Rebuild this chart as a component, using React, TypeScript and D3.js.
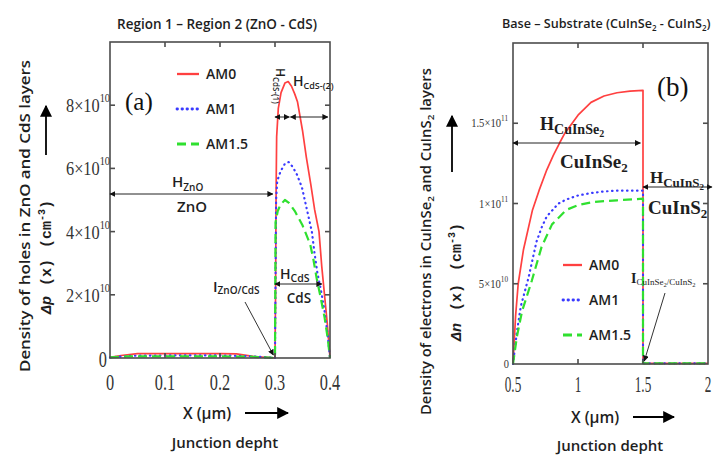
import React from 'react';
import * as d3 from 'd3';

type Pt = [number, number];

// Region 1 – Region 2 (ZnO / CdS): excess hole density Δp(x), x in µm, Δp in cm^-3
const holesAM0: Pt[] = [
  [0, 0.02e10], [0.02, 0.08e10], [0.05, 0.14e10], [0.1, 0.14e10], [0.15, 0.14e10], [0.2, 0.14e10],
  [0.23, 0.13e10], [0.26, 0.05e10], [0.29, 0.01e10], [0.3, 0], [0.301, 2.0e10], [0.302, 5.3e10],
  [0.303, 7.0e10], [0.306, 7.9e10], [0.311, 8.4e10], [0.318, 8.7e10], [0.324, 8.75e10], [0.33, 8.6e10],
  [0.336, 8.35e10], [0.341, 8.1e10], [0.35, 7.2e10], [0.357, 6.35e10], [0.365, 5.5e10], [0.372, 4.7e10],
  [0.38, 4.0e10], [0.385, 2.9e10], [0.39, 2.0e10], [0.395, 1.1e10], [0.4, 0],
];
const holesAM1: Pt[] = [
  [0, 0.02e10], [0.04, 0.07e10], [0.1, 0.08e10], [0.2, 0.08e10], [0.25, 0.06e10], [0.28, 0.03e10],
  [0.3, 0], [0.301, 2.5e10], [0.302, 5.0e10], [0.304, 5.6e10], [0.31, 5.9e10], [0.318, 6.15e10],
  [0.325, 6.2e10], [0.332, 6.05e10], [0.34, 5.8e10], [0.349, 5.4e10], [0.358, 4.7e10], [0.367, 4.0e10],
  [0.372, 3.3e10], [0.377, 2.7e10], [0.383, 2.2e10], [0.39, 1.5e10], [0.396, 0.7e10], [0.4, 0],
];
const holesAM15: Pt[] = [
  [0, 0.02e10], [0.03, 0.05e10], [0.1, 0.05e10], [0.2, 0.05e10], [0.26, 0.04e10], [0.29, 0.01e10],
  [0.3, 0], [0.3005, 2.0e10], [0.301, 4.3e10], [0.305, 4.65e10], [0.31, 4.85e10], [0.318, 5.0e10],
  [0.326, 4.9e10], [0.336, 4.65e10], [0.35, 4.2e10], [0.364, 3.6e10], [0.37, 3.1e10], [0.376, 2.5e10],
  [0.382, 2.0e10], [0.39, 1.3e10], [0.396, 0.6e10], [0.4, 0],
];
const holesXDomain = [0, 0.4];
const holesYDomain = [0, 10e10];
const holesXTicks = [0, 0.1, 0.2, 0.3, 0.4];
const holesYTicks = [0, 2e10, 4e10, 6e10, 8e10];

// Base – Substrate (CuInSe2 / CuInS2): excess electron density Δn(x)
const electronsAM0: Pt[] = [
  [0.5, 0], [0.52, 0.3e11], [0.54, 0.5e11], [0.58, 0.71e11], [0.65, 0.96e11], [0.7, 1.08e11],
  [0.76, 1.21e11], [0.81, 1.3e11], [0.86, 1.38e11], [0.9, 1.44e11], [1.0, 1.55e11], [1.1, 1.63e11],
  [1.2, 1.67e11], [1.3, 1.69e11], [1.4, 1.7e11], [1.5, 1.705e11], [1.5, 0.004e11], [2, 0.004e11],
];
const electronsAM1: Pt[] = [
  [0.5, 0], [0.53, 0.2e11], [0.56, 0.36e11], [0.62, 0.54e11], [0.68, 0.76e11], [0.72, 0.85e11],
  [0.76, 0.92e11], [0.85, 1.0e11], [0.91, 1.025e11], [1.0, 1.05e11], [1.1, 1.065e11], [1.2, 1.075e11],
  [1.3, 1.08e11], [1.4, 1.08e11], [1.5, 1.08e11], [1.5, 0.004e11], [2, 0.004e11],
];
const electronsAM15: Pt[] = [
  [0.5, 0], [0.53, 0.17e11], [0.57, 0.33e11], [0.645, 0.52e11], [0.72, 0.73e11], [0.8, 0.87e11],
  [0.91, 0.96e11], [1.0, 0.99e11], [1.12, 1.01e11], [1.3, 1.02e11], [1.5, 1.03e11],
  [1.5, 0.004e11], [2, 0.004e11],
];
const electronsXDomain = [0.5, 2];
const electronsYDomain = [0, 2e11];
const electronsXTicks = [0.5, 1, 1.5, 2];
const electronsYTicks = [0, 5e10, 1e11, 1.5e11];

const spectra = ['AM0', 'AM1', 'AM1.5'];

const SANS = '"Open Sans", "Liberation Sans", sans-serif';
const SERIF = '"Liberation Serif", "DejaVu Serif", serif';
const MONO = '"Liberation Mono", "DejaVu Sans Mono", monospace';
const INK = '#1e1e1e';
const FRAME = '#4d4d4d';

const seriesStyle = [
  { stroke: '#ff4040', width: 1.7, dash: undefined as string | undefined, cap: 'butt' },
  { stroke: '#3a3aff', width: 2.2, dash: '0.5 4.5', cap: 'round' },
  { stroke: '#2fe02f', width: 2.2, dash: '9 5', cap: 'butt' },
];

function sci(v: number): [string, string] | null {
  if (v === 0) return null;
  const e = Math.floor(Math.log10(v) + 1e-9);
  const m = +(v / Math.pow(10, e)).toFixed(2);
  return [String(m), String(e)];
}

type Scale = d3.ScaleLinear<number, number>;

function Frame({ x, y, xTicks, yTicks }: { x: Scale; y: Scale; xTicks: number[]; yTicks: number[] }) {
  const [x0, x1] = x.range();
  const [y0, y1] = y.range();
  const t = 5;
  const innerX = xTicks.filter((v) => v > x.domain()[0] && v < x.domain()[1]);
  const innerY = yTicks.filter((v) => v > y.domain()[0] && v < y.domain()[1]);
  return (
    <g stroke={FRAME} strokeWidth={1.6} fill="none">
      <rect x={x0} y={y1} width={x1 - x0} height={y0 - y1} />
      {innerX.map((v) => (
        <g key={'x' + v}>
          <line x1={x(v)} x2={x(v)} y1={y0} y2={y0 - t} />
          <line x1={x(v)} x2={x(v)} y1={y1} y2={y1 + t} />
        </g>
      ))}
      {innerY.map((v) => (
        <g key={'y' + v}>
          <line x1={x0} x2={x0 + t} y1={y(v)} y2={y(v)} />
          <line x1={x1} x2={x1 - t} y1={y(v)} y2={y(v)} />
        </g>
      ))}
    </g>
  );
}

function Curves({ x, y, series }: { x: Scale; y: Scale; series: Pt[][] }) {
  const line = d3
    .line<Pt>()
    .x((d) => x(d[0]))
    .y((d) => y(d[1]))
    .curve(d3.curveLinear);
  return (
    <g fill="none">
      {series.map((s, i) => (
        <path
          key={i}
          d={line(s) || ''}
          stroke={seriesStyle[i].stroke}
          strokeWidth={seriesStyle[i].width}
          strokeDasharray={seriesStyle[i].dash}
          strokeLinecap={seriesStyle[i].cap as any}
          strokeLinejoin="round"
        />
      ))}
    </g>
  );
}

function Legend({ x, y, gap, len, fontSize }: { x: number; y: number; gap: number; len: number; fontSize: number }) {
  return (
    <g>
      {spectra.map((name, i) => (
        <g key={name} transform={`translate(${x},${y + i * gap})`}>
          <line
            x1={0}
            x2={len}
            y1={0}
            y2={0}
            stroke={seriesStyle[i].stroke}
            strokeWidth={seriesStyle[i].width + 0.6}
            strokeDasharray={seriesStyle[i].dash}
            strokeLinecap={seriesStyle[i].cap as any}
          />
          <text x={len + 7} y={5} fontFamily={SANS} fontWeight={600} fontSize={fontSize} fill={INK}>
            {name}
          </text>
        </g>
      ))}
    </g>
  );
}

export default function App() {
  const xa = d3.scaleLinear().domain(holesXDomain).range([110, 330]);
  const ya = d3.scaleLinear().domain(holesYDomain).range([358, 42]);
  const xb = d3.scaleLinear().domain(electronsXDomain).range([513, 708]);
  const yb = d3.scaleLinear().domain(electronsYDomain).range([364, 43]);

  return (
    <svg
      width={722}
      height={457}
      viewBox="0 0 722 457"
      style={{ position: 'absolute', left: 0, top: 0, background: '#fff' }}
    >
      <defs>
        <marker id="ah" viewBox="0 0 10 10" refX={9} refY={5} markerWidth={6} markerHeight={6} orient="auto-start-reverse" markerUnits="userSpaceOnUse">
          <path d="M0,0 L10,5 L0,10 z" fill="#111" />
        </marker>
        <marker id="big" viewBox="0 0 10 10" refX={9} refY={5} markerWidth={12} markerHeight={12} orient="auto" markerUnits="userSpaceOnUse">
          <path d="M0,0 L10,5 L0,10 z" fill="#000" />
        </marker>
      </defs>

      {/* ---------------- panel (a) ---------------- */}
      <text x={217} y={29} textAnchor="middle" fontFamily={SANS} fontWeight={600} fontSize={13.5} fill={INK}>
        Region 1 – Region 2 (ZnO - CdS)
      </text>

      <Curves x={xa} y={ya} series={[holesAM0, holesAM1, holesAM15]} />
      <Frame x={xa} y={ya} xTicks={holesXTicks} yTicks={holesYTicks} />

      {holesXTicks.map((v) => (
        <text key={v} transform={`translate(${xa(v)},390) scale(0.68,1)`} textAnchor="middle" fontFamily={SERIF} fontSize={24} fill="#333">
          {String(v)}
        </text>
      ))}
      {holesYTicks.map((v) => {
        const p = sci(v);
        if (!p)
          return (
            <text key={v} transform={`translate(107,${ya(v) + 9}) scale(0.68,1)`} textAnchor="end" fontFamily={SERIF} fontSize={24} fill="#333">
              0
            </text>
          );
        return (
          <text key={v} transform={`translate(110,${ya(v) + 7}) scale(0.86,1)`} textAnchor="end" fontFamily={SERIF} fontSize={19} fill="#333">
            {p[0]}×10
            <tspan dy={-10} fontSize={12}>
              {p[1]}
            </tspan>
          </text>
        );
      })}

      <text x={125} y={110} fontFamily={SERIF} fontSize={25} fill="#111">
        (a)
      </text>
      <Legend x={177} y={74} gap={35} len={22} fontSize={14} />

      {/* ZnO layer */}
      <text x={172} y={187} fontFamily={SANS} fontWeight={600} fontSize={15} fill={INK}>
        H<tspan dy={4} fontSize={10}>ZnO</tspan>
      </text>
      <line x1={xa(0)} x2={xa(0.296)} y1={194} y2={194} stroke="#222" strokeWidth={1} markerStart="url(#ah)" markerEnd="url(#ah)" />
      <text x={192} y={212} textAnchor="middle" fontFamily={SANS} fontWeight={600} fontSize={15} fill={INK}>
        ZnO
      </text>

      {/* CdS layer */}
      <text transform="translate(276,68) rotate(90)" fontFamily={SANS} fontWeight={600} fontSize={12} fill={INK}>
        H<tspan dy={3} fontSize={8}>CdS-(1)</tspan>
      </text>
      <text x={293} y={86} fontFamily={SANS} fontWeight={600} fontSize={14} fill={INK}>
        H<tspan dy={3} fontSize={9}>CdS-(2)</tspan>
      </text>
      <line x1={xa(0.3)} x2={xa(0.326)} y1={117} y2={117} stroke="#222" strokeWidth={1} markerStart="url(#ah)" markerEnd="url(#ah)" />
      <line x1={xa(0.328)} x2={xa(0.396)} y1={117} y2={117} stroke="#222" strokeWidth={1} markerStart="url(#ah)" markerEnd="url(#ah)" />

      <text x={280} y={279} fontFamily={SANS} fontWeight={600} fontSize={14} fill={INK}>
        H<tspan dy={3} fontSize={10.5}>CdS</tspan>
      </text>
      <line x1={xa(0.3)} x2={xa(0.385)} y1={284} y2={284} stroke="#222" strokeWidth={1} markerStart="url(#ah)" markerEnd="url(#ah)" />
      <text x={299} y={303} textAnchor="middle" fontFamily={SANS} fontWeight={600} fontSize={13.5} fill={INK}>
        CdS
      </text>

      <text x={213} y={292} fontFamily={SANS} fontWeight={600} fontSize={15} fill={INK}>
        I<tspan dy={2} fontSize={10}>ZnO/CdS</tspan>
      </text>
      <line x1={245} y1={302} x2={xa(0.297)} y2={355} stroke="#333" strokeWidth={1} markerEnd="url(#ah)" />

      {/* axis titles (a) */}
      <text x={183} y={419} fontFamily={SANS} fontWeight={600} fontSize={15.5} fill={INK}>
        X (µm)
      </text>
      <line x1={245} x2={288} y1={413} y2={413} stroke="#000" strokeWidth={1.8} markerEnd="url(#big)" />
      <text x={225} y={448} textAnchor="middle" fontFamily={SANS} fontWeight={600} fontSize={15} fill={INK}>
        Junction depht
      </text>

      <text
        transform="translate(30,372) rotate(-90)"
        fontFamily={SANS}
        fontWeight={600}
        fontSize={14.5}
        fill={INK}
        textLength={312}
        lengthAdjust="spacingAndGlyphs"
      >
        Density of holes in ZnO and CdS layers
      </text>
      <text transform="translate(51,314) rotate(-90)" fontFamily={MONO} fontWeight={700} fontSize={15} fill={INK}>
        <tspan fontStyle="italic">Δp</tspan>
        <tspan dx={10}>(x)</tspan>
        <tspan dx={11}>(cm</tspan>
        <tspan dy={-6} fontSize={10}>-3</tspan>
        <tspan dy={6}>)</tspan>
      </text>
      <line x1={46} x2={46} y1={155} y2={106} stroke="#000" strokeWidth={1.8} markerEnd="url(#big)" />

      {/* ---------------- panel (b) ---------------- */}
      <text x={502} y={28} fontFamily={SANS} fontWeight={600} fontSize={12.6} fill={INK}>
        Base – Substrate (CuInSe<tspan dy={3} fontSize={8}>2</tspan>
        <tspan dy={-3}> - CuInS</tspan>
        <tspan dy={3} fontSize={8}>2</tspan>
        <tspan dy={-3}>)</tspan>
      </text>

      <Curves x={xb} y={yb} series={[electronsAM0, electronsAM1, electronsAM15]} />
      <Frame x={xb} y={yb} xTicks={electronsXTicks} yTicks={electronsYTicks} />

      {electronsXTicks.map((v) => (
        <text key={v} transform={`translate(${xb(v)},392) scale(0.55,1)`} textAnchor="middle" fontFamily={SERIF} fontSize={24} fill="#333">
          {String(v)}
        </text>
      ))}
      {electronsYTicks.map((v) => {
        const p = sci(v);
        if (!p)
          return (
            <text key={v} transform={`translate(509,${yb(v) + 4}) scale(0.8,1)`} textAnchor="end" fontFamily={SERIF} fontSize={13} fill="#333">
              0
            </text>
          );
        return (
          <text key={v} transform={`translate(508,${yb(v) + 4}) scale(0.85,1)`} textAnchor="end" fontFamily={SERIF} fontSize={12.5} fill="#333">
            {p[0]}×10
            <tspan dy={-6} fontSize={8.5}>
              {p[1]}
            </tspan>
          </text>
        );
      })}

      <text x={657} y={96} fontFamily={SERIF} fontSize={27} fill="#111">
        (b)
      </text>
      <Legend x={563} y={265} gap={35} len={19} fontSize={14} />

      {/* CuInSe2 layer */}
      <text x={540} y={130} fontFamily={SERIF} fontWeight={700} fontSize={18} fill={INK}>
        H<tspan dy={4} fontSize={14}>CuInSe</tspan>
        <tspan dy={3} fontSize={10}>2</tspan>
      </text>
      <line x1={xb(0.5)} x2={xb(1.48)} y1={143} y2={143} stroke="#222" strokeWidth={1} markerStart="url(#ah)" markerEnd="url(#ah)" />
      <text x={560} y={168} fontFamily={SERIF} fontWeight={700} fontSize={19} fill={INK}>
        CuInSe<tspan dy={4} fontSize={13}>2</tspan>
      </text>

      {/* CuInS2 layer */}
      <text x={650} y={183} fontFamily={SERIF} fontWeight={700} fontSize={17} fill={INK}>
        H<tspan dy={4} fontSize={13}>CuInS</tspan>
        <tspan dy={3} fontSize={9}>2</tspan>
      </text>
      <line x1={xb(1.5)} x2={xb(2.03)} y1={187} y2={187} stroke="#222" strokeWidth={1} markerStart="url(#ah)" markerEnd="url(#ah)" />
      <text x={648} y={214} fontFamily={SERIF} fontWeight={700} fontSize={19} fill={INK}>
        CuInS<tspan dy={4} fontSize={13}>2</tspan>
      </text>

      <text x={631} y={283} fontFamily={SERIF} fontWeight={700} fontSize={14} fill={INK}>
        I<tspan dy={2} fontSize={9} fontWeight={400}>CuInSe</tspan>
        <tspan dy={2} fontSize={6.5} fontWeight={400}>2</tspan>
        <tspan dy={-2} fontSize={9} fontWeight={400}>/CuInS</tspan>
        <tspan dy={2} fontSize={6.5} fontWeight={400}>2</tspan>
      </text>
      <line x1={665} y1={293} x2={xb(1.51)} y2={361} stroke="#333" strokeWidth={1} markerEnd="url(#ah)" />

      {/* axis titles (b) */}
      <text x={571} y={423} fontFamily={SANS} fontWeight={600} fontSize={15.5} fill={INK}>
        X (µm)
      </text>
      <line x1={633} x2={674} y1={417} y2={417} stroke="#000" strokeWidth={1.8} markerEnd="url(#big)" />
      <text x={610} y={451} textAnchor="middle" fontFamily={SANS} fontWeight={600} fontSize={15} fill={INK}>
        Junction depht
      </text>

      <text
        transform="translate(431,415) rotate(-90)"
        fontFamily={SANS}
        fontWeight={600}
        fontSize={13.5}
        fill={INK}
        textLength={347}
        lengthAdjust="spacingAndGlyphs"
      >
        Density of electrons in CuInSe<tspan dy={3} fontSize={9}>2</tspan>
        <tspan dy={-3}> and CuInS</tspan>
        <tspan dy={3} fontSize={9}>2</tspan>
        <tspan dy={-3}> layers</tspan>
      </text>
      <text transform="translate(461,341) rotate(-90)" fontFamily={MONO} fontWeight={700} fontSize={15} fill={INK}>
        <tspan fontStyle="italic">Δn</tspan>
        <tspan dx={12}>(x)</tspan>
        <tspan dx={13}>(cm</tspan>
        <tspan dy={-6} fontSize={10}>-3</tspan>
        <tspan dy={6}>)</tspan>
      </text>
      <line x1={452} x2={452} y1={172} y2={116} stroke="#000" strokeWidth={1.8} markerEnd="url(#big)" />
    </svg>
  );
}
